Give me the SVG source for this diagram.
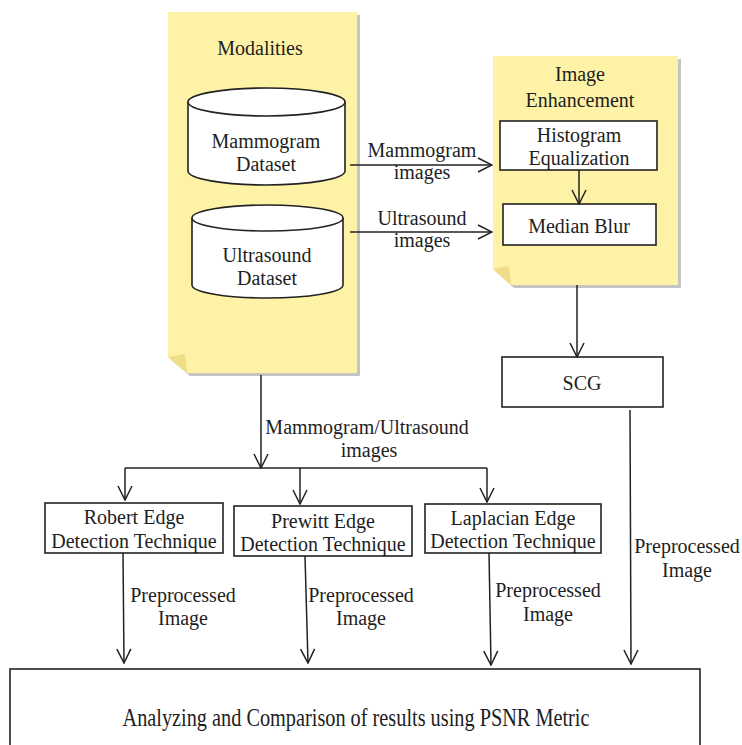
<svg xmlns="http://www.w3.org/2000/svg" width="742" height="745" viewBox="0 0 742 745" font-family="Liberation Serif, Tinos, DejaVu Serif, serif">
<style>
text{font-family:'Liberation Serif',Tinos,'DejaVu Serif',serif;font-size:20px;fill:#1e1e1e;text-anchor:middle}
.box{fill:#fff;stroke:#222;stroke-width:1.6}
.ln{fill:none;stroke:#222;stroke-width:1.5}
.note{fill:#FEF2A6}
.shadow{fill:#c4c4c4}
.fold{fill:#EFDE87}
</style>
<defs>
<marker id="ah" viewBox="0 0 16 16" refX="15" refY="8" markerWidth="16" markerHeight="16" markerUnits="userSpaceOnUse" orient="auto">
<path d="M1,1 L15,8 L1,15" fill="none" stroke="#222" stroke-width="1.5"/>
</marker>
</defs>
<rect width="742" height="745" fill="#fff"/>

<g id="modalities">
<path class="shadow" d="M171,15 L360,15 L360,376 L190,376 L171,360 Z"/>
<path class="note" d="M168,12 L357,12 L357,373 L187,373 L168,357 Z"/>
<path class="fold" d="M168,357 L185,354 L187,373 Z"/>
<text x="260" y="55">Modalities</text>
</g>

<g id="mammogram-dataset">
<path class="box" d="M188,102 L188,171 A78.5,14 0 0 0 345,171 L345,102"/>
<ellipse class="box" cx="266.5" cy="102" rx="78.5" ry="14"/>
<text x="266" y="148">Mammogram</text>
<text x="266" y="171">Dataset</text>
</g>

<g id="ultrasound-dataset">
<path class="box" d="M192,218 L192,285 A75.5,13 0 0 0 343,285 L343,218"/>
<ellipse class="box" cx="267.5" cy="218" rx="75.5" ry="13"/>
<text x="267" y="262">Ultrasound</text>
<text x="267" y="285">Dataset</text>
</g>

<g id="image-enhancement">
<path class="shadow" d="M496,59 L681,59 L681,288 L514,288 L496,272 Z"/>
<path class="note" d="M493,56 L678,56 L678,285 L511,285 L493,269 Z"/>
<path class="fold" d="M493,269 L509,266 L511,285 Z"/>
<text x="580" y="81">Image</text>
<text x="580" y="107">Enhancement</text>
</g>

<g id="histogram">
<rect class="box" x="500" y="121" width="157" height="49"/>
<text x="579" y="142">Histogram</text>
<text x="579" y="165">Equalization</text>
</g>

<g id="median-blur">
<rect class="box" x="503" y="204" width="153" height="41"/>
<text x="579" y="233">Median Blur</text>
</g>

<g id="scg">
<rect class="box" x="502" y="357" width="161" height="50"/>
<text x="582" y="390">SCG</text>
</g>

<g id="robert">
<rect class="box" x="45" y="503" width="178" height="50"/>
<text x="134" y="524">Robert Edge</text>
<text x="134" y="548">Detection Technique</text>
</g>

<g id="prewitt">
<rect class="box" x="234" y="506" width="178" height="50"/>
<text x="323" y="528">Prewitt Edge</text>
<text x="323" y="551">Detection Technique</text>
</g>

<g id="laplacian">
<rect class="box" x="425" y="504" width="176" height="49"/>
<text x="513" y="525">Laplacian Edge</text>
<text x="513" y="548">Detection Technique</text>
</g>

<g id="analysis">
<rect class="box" x="10" y="669" width="690" height="100"/>
<text x="356" y="726" font-size="26" textLength="467" lengthAdjust="spacingAndGlyphs" style="font-size:26px">Analyzing and Comparison of results using PSNR Metric</text>
</g>

<g id="connectors">
<line class="ln" x1="350" y1="165" x2="492" y2="165" marker-end="url(#ah)"/>
<line class="ln" x1="350" y1="232" x2="492" y2="232" marker-end="url(#ah)"/>
<line class="ln" x1="579" y1="170" x2="579" y2="204" marker-end="url(#ah)"/>
<line class="ln" x1="577" y1="285" x2="577" y2="357" marker-end="url(#ah)"/>
<line class="ln" x1="261" y1="375" x2="261" y2="468" marker-end="url(#ah)"/>
<line class="ln" x1="125" y1="468" x2="487" y2="468"/>
<line class="ln" x1="125" y1="468" x2="125" y2="500" marker-end="url(#ah)"/>
<line class="ln" x1="300" y1="468" x2="300" y2="504" marker-end="url(#ah)"/>
<line class="ln" x1="487" y1="468" x2="487" y2="502" marker-end="url(#ah)"/>
<line class="ln" x1="123" y1="553" x2="124" y2="663" marker-end="url(#ah)"/>
<line class="ln" x1="305" y1="556" x2="308" y2="663" marker-end="url(#ah)"/>
<line class="ln" x1="489" y1="553" x2="491" y2="665" marker-end="url(#ah)"/>
<line class="ln" x1="630" y1="410" x2="631" y2="664" marker-end="url(#ah)"/>
<text x="422" y="157">Mammogram</text>
<text x="422" y="179">images</text>
<text x="422" y="225">Ultrasound</text>
<text x="422" y="247">images</text>
<text x="367" y="434">Mammogram/Ultrasound</text>
<text x="369" y="457">images</text>
<text x="183" y="602">Preprocessed</text>
<text x="183" y="625">Image</text>
<text x="361" y="602">Preprocessed</text>
<text x="361" y="625">Image</text>
<text x="548" y="597">Preprocessed</text>
<text x="548" y="621">Image</text>
<text x="687" y="553">Preprocessed</text>
<text x="687" y="577">Image</text>
</g>
</svg>
